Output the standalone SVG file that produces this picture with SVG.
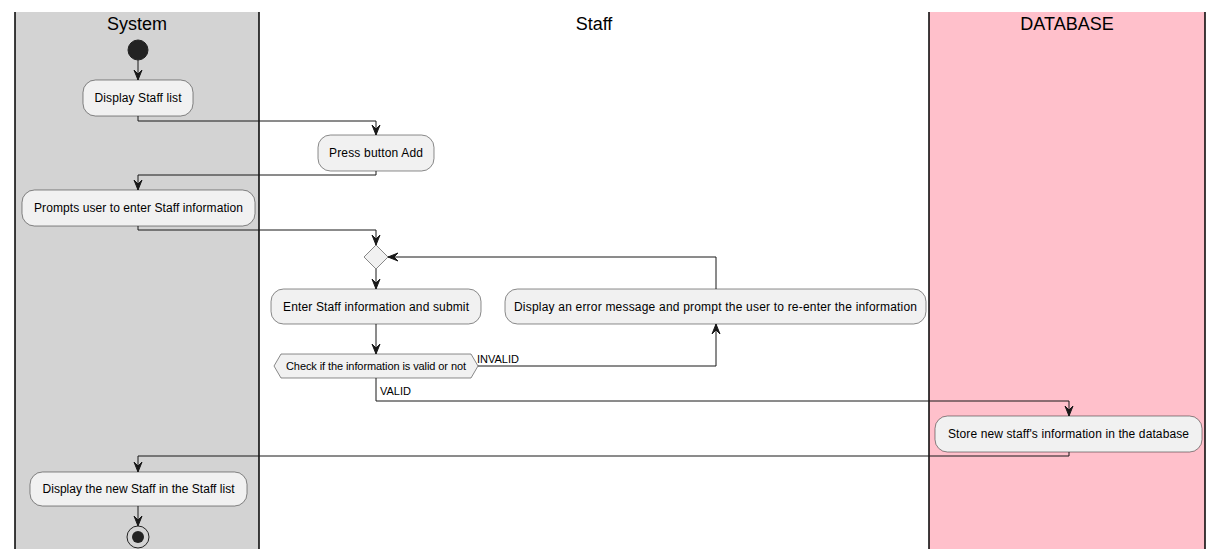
<svg xmlns="http://www.w3.org/2000/svg" width="1224" height="559" viewBox="0 0 1224 559">
<style>
.lane{stroke:#000000;stroke-width:1.5}
.title{font-family:"Liberation Sans",Arial,sans-serif;font-size:18px;fill:#000000;text-anchor:middle}
.act{fill:#F1F1F1;stroke:#181818;stroke-width:0.5}
.t{font-family:"Liberation Sans",Arial,sans-serif;font-size:12px;fill:#000000;text-anchor:middle}
.t11{font-family:"Liberation Sans",Arial,sans-serif;font-size:11px;fill:#000000}
.c{fill:none;stroke:#181818;stroke-width:1}
.ah{fill:#181818;stroke:#181818;stroke-width:1}
</style>
<rect width="1224" height="559" fill="#FFFFFF"/>
<g id="lanes">
<rect x="15" y="12" width="244" height="537" fill="#D3D3D3"/>
<rect x="929" y="12" width="276" height="537" fill="#FFC0CB"/>
<line class="lane" x1="15" y1="12" x2="15" y2="549"/>
<line class="lane" x1="259" y1="12" x2="259" y2="549"/>
<line class="lane" x1="929" y1="12" x2="929" y2="549"/>
<line class="lane" x1="1205" y1="12" x2="1205" y2="549"/>
<text class="title" x="137" y="30">System</text>
<text class="title" x="594" y="30">Staff</text>
<text class="title" x="1067" y="30">DATABASE</text>
</g>
<g id="connectors">
<path class="c" d="M138,60 L138,80"/>
<polygon class="ah" points="134,70 138,80 142,70 138,74"/>
<path class="c" d="M138,116 L138,121 L376,121 L376,135"/>
<polygon class="ah" points="372,125 376,135 380,125 376,129"/>
<path class="c" d="M376,171 L376,175 L138,175 L138,190"/>
<polygon class="ah" points="134,180 138,190 142,180 138,184"/>
<path class="c" d="M138,226 L138,230 L376,230 L376,245"/>
<polygon class="ah" points="372,235 376,245 380,235 376,239"/>
<path class="c" d="M376,269 L376,289"/>
<polygon class="ah" points="372,279 376,289 380,279 376,283"/>
<path class="c" d="M376,324 L376,354"/>
<polygon class="ah" points="372,344 376,354 380,344 376,348"/>
<path class="c" d="M478,366 L716,366 L716,324"/>
<polygon class="ah" points="712,334 716,324 720,334 716,330"/>
<path class="c" d="M716,289 L716,257 L388,257"/>
<polygon class="ah" points="398,253 388,257 398,261 394,257"/>
<path class="c" d="M376,378 L376,401 L1069,401 L1069,416"/>
<polygon class="ah" points="1065,406 1069,416 1073,406 1069,410"/>
<path class="c" d="M1069,452 L1069,456 L138,456 L138,472"/>
<polygon class="ah" points="134,462 138,472 142,462 138,466"/>
<path class="c" d="M138,506 L138,526"/>
<polygon class="ah" points="134,516 138,526 142,516 138,520"/>
<text class="t11" x="477" y="363">INVALID</text>
<text class="t11" x="380" y="395">VALID</text>
</g>
<g id="start">
<circle cx="138" cy="50" r="10" fill="#222222" stroke="#222222" stroke-width="1"/>
</g>
<g id="display-staff-list">
<rect class="act" x="83" y="80" width="110" height="36" rx="12.5"/>
<text class="t" x="138" y="102" textLength="87" lengthAdjust="spacing">Display Staff list</text>
</g>
<g id="press-button-add">
<rect class="act" x="318" y="135" width="116" height="36" rx="12.5"/>
<text class="t" x="376" y="157" textLength="94" lengthAdjust="spacing">Press button Add</text>
</g>
<g id="prompts-user">
<rect class="act" x="22" y="190" width="233" height="36" rx="12.5"/>
<text class="t" x="138.5" y="212" textLength="209" lengthAdjust="spacing">Prompts user to enter Staff information</text>
</g>
<g id="merge">
<polygon class="act" points="376,245 388,257 376,269 364,257"/>
</g>
<g id="enter-staff-info">
<rect class="act" x="271" y="289" width="210" height="35" rx="12.5"/>
<text class="t" x="376" y="311" textLength="186" lengthAdjust="spacing">Enter Staff information and submit</text>
</g>
<g id="error-message">
<rect class="act" x="505" y="289" width="421" height="35" rx="12.5"/>
<text class="t" x="715.5" y="311" textLength="403" lengthAdjust="spacing">Display an error message and prompt the user to re-enter the information</text>
</g>
<g id="check-valid">
<polygon class="act" points="274,366 281,354 471,354 478,366 471,378 281,378"/>
<text class="t11" x="376" y="370" text-anchor="middle" textLength="180" lengthAdjust="spacing">Check if the information is valid or not</text>
</g>
<g id="store">
<rect class="act" x="935" y="416" width="267" height="36" rx="12.5"/>
<text class="t" x="1068.5" y="438" textLength="241" lengthAdjust="spacing">Store new staff's information in the database</text>
</g>
<g id="display-new-staff">
<rect class="act" x="30" y="472" width="217" height="34" rx="12.5"/>
<text class="t" x="138.5" y="493" textLength="192" lengthAdjust="spacing">Display the new Staff in the Staff list</text>
</g>
<g id="end">
<circle cx="138" cy="537" r="11" fill="none" stroke="#222222" stroke-width="1"/>
<circle cx="138" cy="537" r="6" fill="#222222"/>
</g>
</svg>
